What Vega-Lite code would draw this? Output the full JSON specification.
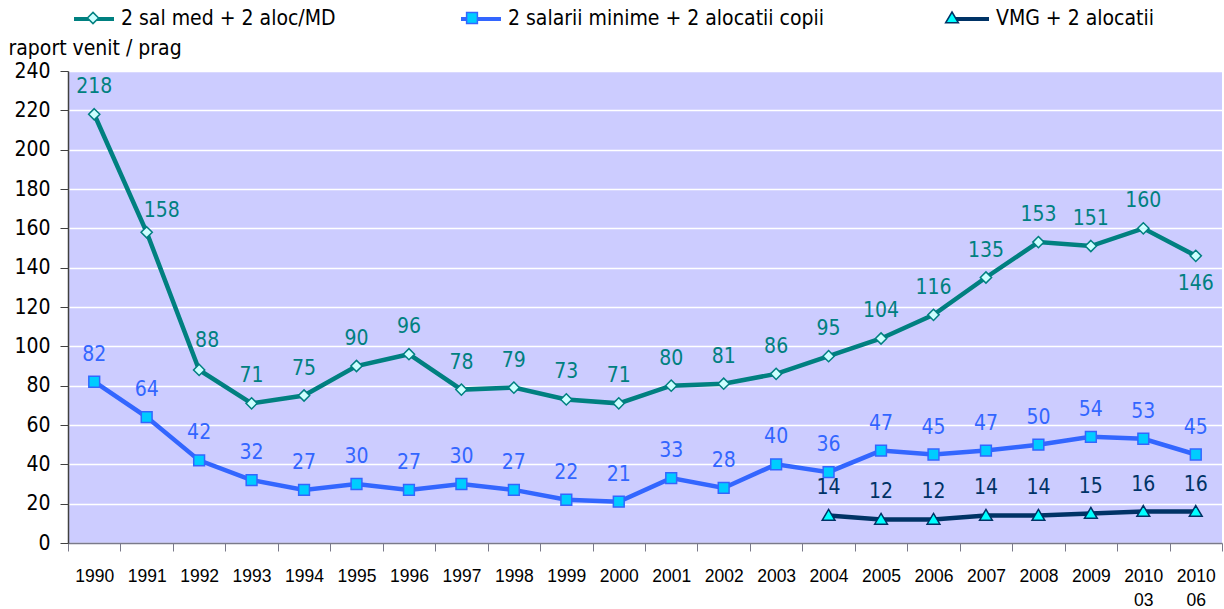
{
  "$schema": "https://vega.github.io/schema/vega-lite/v6.json",
  "width": 1154,
  "height": 472,
  "autosize": {"type": "none"},
  "padding": {"left": 68, "top": 71, "right": 2, "bottom": 66},
  "background": "white",
  "config": {
    "view": {"fill": "#CCCCFF", "stroke": null},
    "font": "DejaVu Sans Condensed"
  },
  "data": {
    "values": [
      {"x": "1990", "series": "2 sal med + 2 aloc/MD", "value": 218},
      {"x": "1991", "series": "2 sal med + 2 aloc/MD", "value": 158},
      {"x": "1992", "series": "2 sal med + 2 aloc/MD", "value": 88},
      {"x": "1993", "series": "2 sal med + 2 aloc/MD", "value": 71},
      {"x": "1994", "series": "2 sal med + 2 aloc/MD", "value": 75},
      {"x": "1995", "series": "2 sal med + 2 aloc/MD", "value": 90},
      {"x": "1996", "series": "2 sal med + 2 aloc/MD", "value": 96},
      {"x": "1997", "series": "2 sal med + 2 aloc/MD", "value": 78},
      {"x": "1998", "series": "2 sal med + 2 aloc/MD", "value": 79},
      {"x": "1999", "series": "2 sal med + 2 aloc/MD", "value": 73},
      {"x": "2000", "series": "2 sal med + 2 aloc/MD", "value": 71},
      {"x": "2001", "series": "2 sal med + 2 aloc/MD", "value": 80},
      {"x": "2002", "series": "2 sal med + 2 aloc/MD", "value": 81},
      {"x": "2003", "series": "2 sal med + 2 aloc/MD", "value": 86},
      {"x": "2004", "series": "2 sal med + 2 aloc/MD", "value": 95},
      {"x": "2005", "series": "2 sal med + 2 aloc/MD", "value": 104},
      {"x": "2006", "series": "2 sal med + 2 aloc/MD", "value": 116},
      {"x": "2007", "series": "2 sal med + 2 aloc/MD", "value": 135},
      {"x": "2008", "series": "2 sal med + 2 aloc/MD", "value": 153},
      {"x": "2009", "series": "2 sal med + 2 aloc/MD", "value": 151},
      {"x": "2010 03", "series": "2 sal med + 2 aloc/MD", "value": 160},
      {"x": "2010 06", "series": "2 sal med + 2 aloc/MD", "value": 146},
      {"x": "1990", "series": "2 salarii minime + 2 alocatii copii", "value": 82},
      {"x": "1991", "series": "2 salarii minime + 2 alocatii copii", "value": 64},
      {"x": "1992", "series": "2 salarii minime + 2 alocatii copii", "value": 42},
      {"x": "1993", "series": "2 salarii minime + 2 alocatii copii", "value": 32},
      {"x": "1994", "series": "2 salarii minime + 2 alocatii copii", "value": 27},
      {"x": "1995", "series": "2 salarii minime + 2 alocatii copii", "value": 30},
      {"x": "1996", "series": "2 salarii minime + 2 alocatii copii", "value": 27},
      {"x": "1997", "series": "2 salarii minime + 2 alocatii copii", "value": 30},
      {"x": "1998", "series": "2 salarii minime + 2 alocatii copii", "value": 27},
      {"x": "1999", "series": "2 salarii minime + 2 alocatii copii", "value": 22},
      {"x": "2000", "series": "2 salarii minime + 2 alocatii copii", "value": 21},
      {"x": "2001", "series": "2 salarii minime + 2 alocatii copii", "value": 33},
      {"x": "2002", "series": "2 salarii minime + 2 alocatii copii", "value": 28},
      {"x": "2003", "series": "2 salarii minime + 2 alocatii copii", "value": 40},
      {"x": "2004", "series": "2 salarii minime + 2 alocatii copii", "value": 36},
      {"x": "2005", "series": "2 salarii minime + 2 alocatii copii", "value": 47},
      {"x": "2006", "series": "2 salarii minime + 2 alocatii copii", "value": 45},
      {"x": "2007", "series": "2 salarii minime + 2 alocatii copii", "value": 47},
      {"x": "2008", "series": "2 salarii minime + 2 alocatii copii", "value": 50},
      {"x": "2009", "series": "2 salarii minime + 2 alocatii copii", "value": 54},
      {"x": "2010 03", "series": "2 salarii minime + 2 alocatii copii", "value": 53},
      {"x": "2010 06", "series": "2 salarii minime + 2 alocatii copii", "value": 45},
      {"x": "2004", "series": "VMG + 2 alocatii", "value": 14},
      {"x": "2005", "series": "VMG + 2 alocatii", "value": 12},
      {"x": "2006", "series": "VMG + 2 alocatii", "value": 12},
      {"x": "2007", "series": "VMG + 2 alocatii", "value": 14},
      {"x": "2008", "series": "VMG + 2 alocatii", "value": 14},
      {"x": "2009", "series": "VMG + 2 alocatii", "value": 15},
      {"x": "2010 03", "series": "VMG + 2 alocatii", "value": 16},
      {"x": "2010 06", "series": "VMG + 2 alocatii", "value": 16}
    ]
  },
  "encoding": {
    "x": {
      "field": "x",
      "type": "nominal",
      "sort": null,
      "title": null,
      "axis": {
        "labelAngle": 0,
        "labelExpr": "split(datum.label, ' ')",
        "labelFont": "Liberation Sans",
        "labelFontSize": 17.5,
        "labelColor": "black",
        "labelLineHeight": 24,
        "labelPadding": 16,
        "tickBand": "extent",
        "tickSize": 8,
        "tickColor": "#7a7a8a",
        "domainColor": "#7a7a8a",
        "domainWidth": 1.5,
        "grid": false
      }
    },
    "y": {
      "field": "value",
      "type": "quantitative",
      "scale": {"domain": [0, 240], "nice": false},
      "axis": {
        "values": [0, 20, 40, 60, 80, 100, 120, 140, 160, 180, 200, 220, 240],
        "title": "raport venit / prag",
        "titleAngle": 0,
        "titleAlign": "left",
        "titleBaseline": "alphabetic",
        "titleX": -60,
        "titleY": -17,
        "titleFont": "DejaVu Sans Condensed",
        "titleFontSize": 21,
        "titleFontWeight": "normal",
        "titleColor": "black",
        "labelFont": "DejaVu Sans Condensed",
        "labelFontSize": 21,
        "labelColor": "black",
        "labelPadding": 10,
        "tickSize": 8,
        "tickColor": "#404040",
        "domainColor": "#404040",
        "domainWidth": 1.5,
        "grid": true,
        "gridColor": "white",
        "gridWidth": 1.5
      }
    }
  },
  "layer": [
    {
      "mark": {"type": "line", "strokeWidth": 4.5},
      "encoding": {
        "color": {
          "field": "series",
          "type": "nominal",
          "scale": {
            "domain": ["2 sal med + 2 aloc/MD", "2 salarii minime + 2 alocatii copii", "VMG + 2 alocatii"],
            "range": ["#008080", "#3366FF", "#003366"]
          },
          "legend": {
            "orient": "none",
            "legendX": 4,
            "legendY": -74,
            "direction": "horizontal",
            "title": null,
            "symbolType": "stroke",
            "symbolSize": 1600,
            "symbolStrokeWidth": 4,
            "labelFont": "DejaVu Sans Condensed",
            "labelFontSize": 21,
            "labelColor": "black",
            "labelOffset": 5,
            "labelLimit": 600,
            "columnPadding": 117
          }
        }
      }
    },
    {
      "mark": {"type": "point", "filled": true, "size": 1600, "strokeWidth": 1.5, "opacity": 1},
      "encoding": {
        "shape": {
          "field": "series",
          "type": "nominal",
          "scale": {"range": ["M0,-0.28L0.28,0L0,0.28L-0.28,0Z", "M-0.27,-0.27H0.27V0.27H-0.27Z", "M0,-0.3L0.32,0.24H-0.32Z"]},
          "legend": {
            "orient": "none",
            "legendX": 4,
            "legendY": -74,
            "direction": "horizontal",
            "title": null,
            "symbolSize": 1600,
            "symbolStrokeWidth": 1.5,
            "symbolOpacity": 1,
            "labelFont": "DejaVu Sans Condensed",
            "labelFontSize": 21,
            "labelOpacity": 0,
            "labelOffset": 5,
            "labelLimit": 600,
            "columnPadding": 117
          }
        },
        "fill": {
          "field": "series",
          "type": "nominal",
          "scale": {"range": ["#CCFFFF", "#00CCFF", "#00FFFF"]},
          "legend": {
            "orient": "none",
            "legendX": 4,
            "legendY": -74,
            "direction": "horizontal",
            "title": null,
            "symbolSize": 1600,
            "symbolStrokeWidth": 1.5,
            "labelFont": "DejaVu Sans Condensed",
            "labelFontSize": 21,
            "labelOpacity": 0,
            "labelOffset": 5,
            "labelLimit": 600,
            "columnPadding": 117
          }
        },
        "stroke": {
          "field": "series",
          "type": "nominal",
          "scale": {"range": ["#008080", "#3366FF", "#003366"]},
          "legend": {
            "orient": "none",
            "legendX": 4,
            "legendY": -74,
            "direction": "horizontal",
            "title": null,
            "symbolSize": 1600,
            "symbolStrokeWidth": 1.5,
            "labelFont": "DejaVu Sans Condensed",
            "labelFontSize": 21,
            "labelOpacity": 0,
            "labelOffset": 5,
            "labelLimit": 600,
            "columnPadding": 117
          }
        }
      }
    },
    {
      "transform": [{"filter": "!(datum.series == '2 sal med + 2 aloc/MD' && (datum.x == '1991' || datum.x == '1992' || datum.x == '2010 06'))"}],
      "mark": {"type": "text", "font": "DejaVu Sans Condensed", "fontSize": 21, "baseline": "middle", "dy": -27},
      "encoding": {
        "text": {"field": "value", "type": "quantitative"},
        "color": {"field": "series", "type": "nominal", "legend": null}
      }
    },
    {
      "transform": [{"filter": "datum.series == '2 sal med + 2 aloc/MD' && datum.x == '1991'"}],
      "mark": {"type": "text", "font": "DejaVu Sans Condensed", "fontSize": 21, "baseline": "middle", "dx": 15, "dy": -21, "color": "#008080"},
      "encoding": {"text": {"field": "value", "type": "quantitative"}}
    },
    {
      "transform": [{"filter": "datum.series == '2 sal med + 2 aloc/MD' && datum.x == '1992'"}],
      "mark": {"type": "text", "font": "DejaVu Sans Condensed", "fontSize": 21, "baseline": "middle", "dx": 8, "dy": -29, "color": "#008080"},
      "encoding": {"text": {"field": "value", "type": "quantitative"}}
    },
    {
      "transform": [{"filter": "datum.series == '2 sal med + 2 aloc/MD' && datum.x == '2010 06'"}],
      "mark": {"type": "text", "font": "DejaVu Sans Condensed", "fontSize": 21, "baseline": "middle", "dy": 28, "color": "#008080"},
      "encoding": {"text": {"field": "value", "type": "quantitative"}}
    }
  ]
}
